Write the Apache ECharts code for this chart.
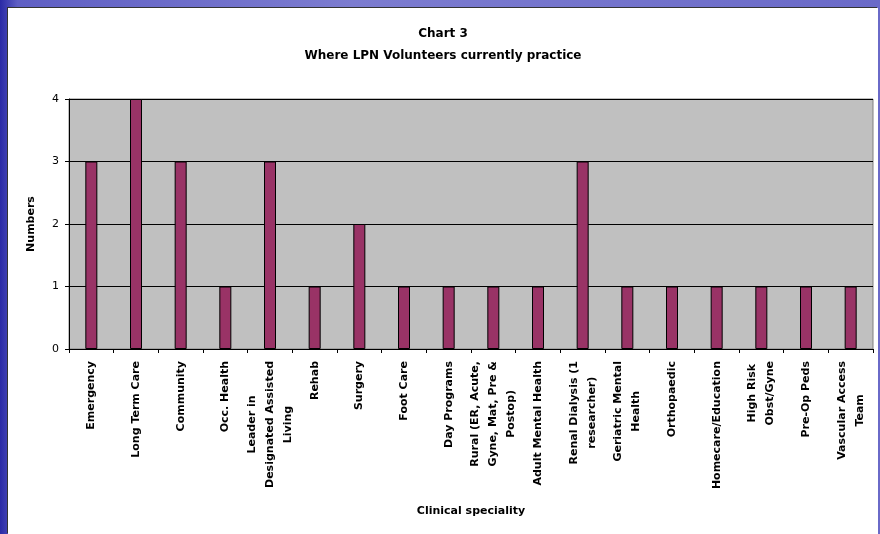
<!DOCTYPE html>
<html>
<head>
<meta charset="utf-8">
<script src="https://cdn.jsdelivr.net/npm/echarts@6/dist/echarts.min.js"></script>
<style>
  html, body {
    margin: 0;
    padding: 0;
    width: 880px;
    height: 534px;
    overflow: hidden;
    background: linear-gradient(90deg, #2a2aa6 0%, #5f5fc4 2%, #7c7cd0 40%, #6a6ac8 100%);
  }
  #chart {
    position: absolute;
    left: 8px;
    top: 8px;
    width: 870px;
    height: 526px;
    background: #fff;
    box-shadow: -1px -1px 0 #333;
  }
</style>
</head>
<body>
<div id="chart"></div>
<script>
// categories (line breaks as on the original axis)
const specialities = [
  "Emergency",
  "Long Term Care",
  "Community",
  "Occ. Health",
  "Leader in\nDesignated Assisted\nLiving",
  "Rehab",
  "Surgery",
  "Foot Care",
  "Day Programs",
  "Rural (ER, Acute,\nGyne, Mat, Pre &\nPostop)",
  "Adult Mental Health",
  "Renal Dialysis (1\nresearcher)",
  "Geriatric Mental\nHealth",
  "Orthopaedic",
  "Homecare/Education",
  "High Risk\nObst/Gyne",
  "Pre-Op Peds",
  "Vascular Access\nTeam"
];
const volunteers = [3, 4, 3, 1, 3, 1, 2, 1, 1, 1, 1, 3, 1, 1, 1, 1, 1, 1];
const yTicks = [0, 1, 2, 3, 4];

const chart = echarts.init(document.getElementById("chart"));

const option = {
  animation: false,
  textStyle: { fontFamily: "DejaVu Sans" },
  title: {
    text: "Chart 3\nWhere LPN Volunteers currently practice",
    left: "center",
    top: 10,
    textStyle: {
      fontSize: 12,
      fontWeight: "bold",
      color: "#000",
      lineHeight: 22
    }
  },
  grid: {
    left: 61,
    right: 5,
    top: 91,
    bottom: 185,
    show: true,
    backgroundColor: "#c0c0c0",
    borderColor: "#808080",
    borderWidth: 1
  },
  xAxis: {
    type: "category",
    data: specialities,
    name: "Clinical speciality",
    nameLocation: "middle",
    nameGap: 157,
    nameTextStyle: { fontSize: 11, fontWeight: "bold", color: "#000" },
    axisLine: { lineStyle: { color: "#000", width: 1 } },
    axisTick: { show: true, length: 4, lineStyle: { color: "#000" } },
    axisLabel: {
      interval: 0,
      rotate: 90,
      margin: 12,
      formatter: function (v) {
        return v.split("\n").map(function (s) { return "{c|" + s + "}"; }).join("\n");
      },
      rich: {
        c: {
          align: "center",
          fontSize: 11,
          fontWeight: "bold",
          color: "#000",
          lineHeight: 18
        }
      }
    }
  },
  yAxis: {
    type: "value",
    min: 0,
    max: 4,
    interval: 1,
    name: "Numbers",
    nameLocation: "middle",
    nameGap: 32,
    nameTextStyle: { fontSize: 11, fontWeight: "bold", color: "#000" },
    axisLine: { show: true, lineStyle: { color: "#000" } },
    axisTick: { show: true, length: 4, lineStyle: { color: "#000" } },
    axisLabel: {
      margin: 10,
      fontSize: 11,
      color: "#000",
      formatter: function (v) { return yTicks.indexOf(v) >= 0 ? String(v) : ""; }
    },
    splitLine: { show: true, lineStyle: { color: "#000", width: 1 } }
  },
  series: [
    {
      type: "bar",
      data: volunteers,
      barWidth: 12,
      itemStyle: {
        color: "#993366",
        borderColor: "#000",
        borderWidth: 1
      }
    }
  ]
};

chart.setOption(option);
</script>
</body>
</html>
